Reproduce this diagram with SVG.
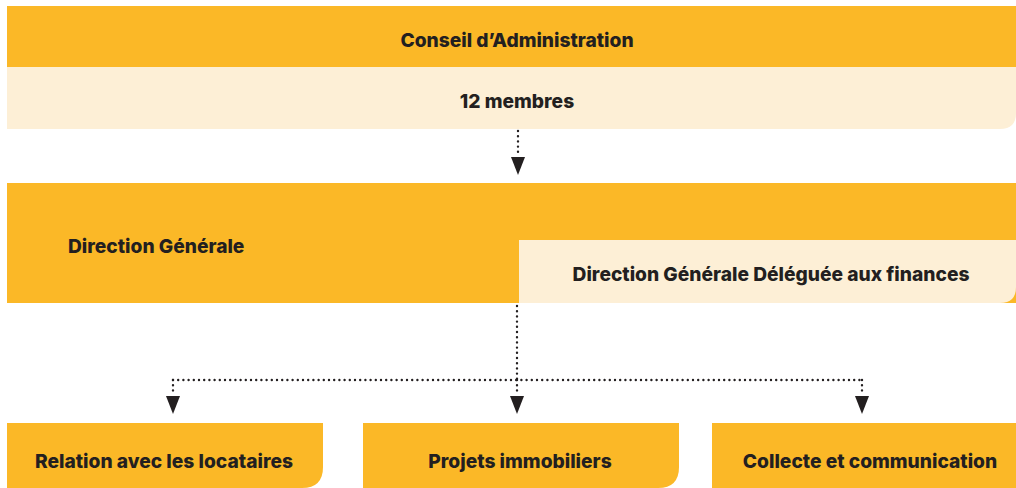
<svg xmlns="http://www.w3.org/2000/svg" width="1016" height="488" viewBox="0 0 1016 488">
<defs>
<style>
.or{fill:#FBB827}
.cr{fill:#FDEFD6}
.t{font-family:Inter,"Liberation Sans",sans-serif;font-weight:800;font-size:19.2px;fill:#231F20}
.c{stroke:#231F20;stroke-width:2.4;stroke-linecap:round;stroke-dasharray:0 5.2;fill:none}
.ah{fill:#231F20}
</style>
</defs>
<rect width="1016" height="488" fill="#fff"/>
<g id="conseil">
<rect class="or" x="7" y="6" width="1009" height="61"/>
<path class="cr" d="M7,67 H1016 V113 Q1016,129 1000,129 H7 Z"/>
<text class="t" x="517" y="47" text-anchor="middle">Conseil d’Administration</text>
<text class="t" x="517" y="108" text-anchor="middle">12 membres</text>
</g>
<g id="direction">
<rect class="or" x="7" y="183" width="1009" height="120"/>
<text class="t" x="68" y="253">Direction Générale</text>
</g>
<g id="delegue">
<path class="cr" d="M519,240 H1016 V287 Q1016,303 1000,303 H519 Z"/>
<text class="t" x="771" y="281" text-anchor="middle">Direction Générale Déléguée aux finances</text>
</g>
<g id="relation">
<path class="or" d="M7,423 H323 V467 Q323,488 302,488 H7 Z"/>
<text class="t" x="164" y="468" text-anchor="middle">Relation avec les locataires</text>
</g>
<g id="projets">
<path class="or" d="M363,423 H679 V467 Q679,488 658,488 H363 Z"/>
<text class="t" x="520" y="468" text-anchor="middle">Projets immobiliers</text>
</g>
<g id="collecte">
<rect class="or" x="712" y="423" width="304" height="65"/>
<text class="t" x="870" y="468" text-anchor="middle">Collecte et communication</text>
</g>
<g id="connectors">
<path class="c" d="M518,131 V156"/>
<path class="ah" d="M511,157 H525 L518,175 Z"/>
<path class="c" d="M517,306 V380"/>
<path class="c" d="M173,380 H862"/>
<path class="c" d="M173,380 V395"/>
<path class="c" d="M517,380 V395"/>
<path class="c" d="M862,380 V395"/>
<path class="ah" d="M166,396 H180 L173,414 Z"/>
<path class="ah" d="M510,396 H524 L517,414 Z"/>
<path class="ah" d="M855,396 H869 L862,414 Z"/>
</g>
</svg>
